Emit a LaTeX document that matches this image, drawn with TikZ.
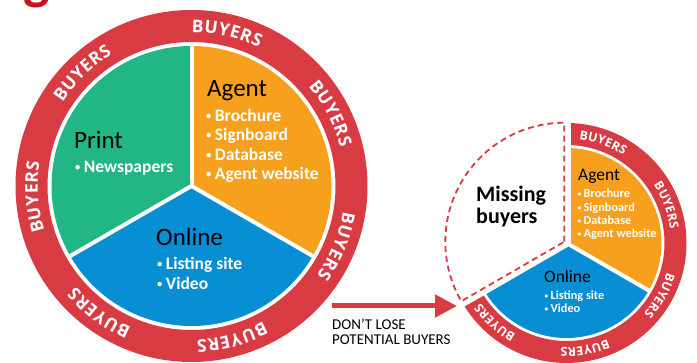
\documentclass[tikz,border=0pt]{standalone}
\usepackage{fontspec}
\setmainfont{Carlito}
\newfontfamily\ringfont{Open Sans}
\usetikzlibrary{calc,decorations.text,arrows.meta}
\definecolor{ringred}{RGB}{217,59,67}
\definecolor{pgreen}{RGB}{34,182,135}
\definecolor{porange}{RGB}{246,160,30}
\definecolor{pblue}{RGB}{8,142,210}
\definecolor{titlered}{RGB}{200,16,32}
\newcommand\bul{\raisebox{0.12em}{\scalebox{0.6}{•}}\hspace{0.2em}}
\newcommand\ringword[5]{%
  \path[decorate,decoration={text along path,
     text={|\ringfont\bfseries\fontsize{#5}{#5}\selectfont|BUYERS},
     text align={fit to path},text color=white}]
     ($(#1)+(#2+#4:#3)$) arc[start angle=#2+#4,end angle=#2-#4,radius=#3];}
\begin{document}
\begin{tikzpicture}[x=1pt,y=1pt,
  headbig/.style={anchor=base west,inner sep=0pt,font=\fontsize{25}{25}\selectfont},
  itembig/.style={anchor=base west,inner sep=0pt,text=white,font=\bfseries\fontsize{17.5}{17.5}\selectfont},
  headsmall/.style={anchor=base west,inner sep=0pt,font=\fontsize{17.5}{17.5}\selectfont},
  itemsmall/.style={anchor=base west,inner sep=0pt,text=white,font=\bfseries\fontsize{12.3}{12.3}\selectfont},
  missing/.style={anchor=base west,inner sep=0pt,font=\bfseries\fontsize{22}{22}\selectfont},
  note/.style={anchor=base west,inner sep=0pt,font=\fontsize{15}{15}\selectfont},
  cut/.style={white,line width=4pt}]
\useasboundingbox (0,0) rectangle (697,363);
\coordinate (C1) at (191.5,177);
\coordinate (C2) at (566.5,120);

% cropped title fragment
\begin{scope}
\clip (0,0) rectangle (697,363);
\node[anchor=base east,inner sep=0pt,text=titlered,font=\bfseries\fontsize{56}{56}\selectfont] (title) at (50,364) {ng};
\end{scope}

% ---- big wheel ----
\fill[ringred,even odd rule] (C1) circle[radius=176] (C1) circle[radius=144];
\fill[pgreen] (C1) -- ++(90:140) arc[start angle=90,end angle=210,radius=140] -- cycle;
\fill[porange] (C1) -- ++(-30:140) arc[start angle=-30,end angle=90,radius=140] -- cycle;
\fill[pblue] (C1) -- ++(210:140) arc[start angle=210,end angle=330,radius=140] -- cycle;
\foreach \a in {90,210,330} \draw[cut] (C1) -- ++(\a:141);
\foreach \a in {77,27.5,-22.5,-75,-126,184,134} {\ringword{C1}{\a}{153.7}{13}{17.5}}

\node[headbig] (print) at (74,214) {Print};
\node[itembig] (news) at (75,190) {\bul Newspapers};
\node[headbig] (agent) at (207,266) {Agent};
\node[itembig] (broch) at (206,241) {\bul Brochure};
\node[itembig] (sign) at (206,222) {\bul Signboard};
\node[itembig] (db) at (206,202) {\bul Database};
\node[itembig] (aweb) at (206,183) {\bul Agent website};
\node[headbig] (online) at (156,117) {Online};
\node[itembig] (list) at (157,93) {\bul Listing site};
\node[itembig] (video) at (157,73) {\bul Video};

% ---- arrow ----
\coordinate (arrS) at (332,57);
\coordinate (arrE) at (457,57);
\draw[ringred,line width=5pt,-{Triangle[length=22pt,width=22pt]}] (arrS) -- (arrE);
\node[note] (dl1) at (332,33) {DON’T LOSE};
\node[note] (dl2) at (332,18) {POTENTIAL BUYERS};

% ---- small wheel ----
\fill[ringred] ($(C2)+(90:120)$) arc[start angle=90,end angle=-150,radius=120]
   -- ($(C2)+(-150:98)$) arc[start angle=-150,end angle=90,radius=98] -- cycle;
\fill[porange] (C2) -- ++(90:95) arc[start angle=90,end angle=-30,radius=95] -- cycle;
\fill[pblue] (C2) -- ++(-30:95) arc[start angle=-30,end angle=-150,radius=95] -- cycle;
\draw[white,line width=8pt] (C2) -- ++(90:123);
\draw[white,line width=8pt] (C2) -- ++(210:123);
\draw[cut] (C2) -- ++(-30:96);
\coordinate (D) at ($(C2)+(150:2.5)$);
\draw[ringred,line width=1.8pt,dash pattern=on 6pt off 4pt]
   (D) -- ++(90:119) arc[start angle=90,end angle=210,radius=119] -- cycle;
\foreach \a in {70,20.6,-29.4,-80,-132} {\ringword{C2}{\a}{104.6}{13.1}{12.3}}

\node[missing] (miss1) at (476,161) {Missing};
\node[missing] (miss2) at (476,139) {buyers};
\node[headsmall] (sagent) at (578,182) {Agent};
\node[itemsmall] (sbroch) at (577.3,165) {\bul Brochure};
\node[itemsmall] (ssign) at (577.3,151) {\bul Signboard};
\node[itemsmall] (sdb) at (577.3,138) {\bul Database};
\node[itemsmall] (saweb) at (577.3,125) {\bul Agent website};
\node[headsmall] (sonline) at (544,80) {Online};
\node[itemsmall] (slist) at (544.3,63) {\bul Listing site};
\node[itemsmall] (svideo) at (544.3,50) {\bul Video};
\end{tikzpicture}
\end{document}
